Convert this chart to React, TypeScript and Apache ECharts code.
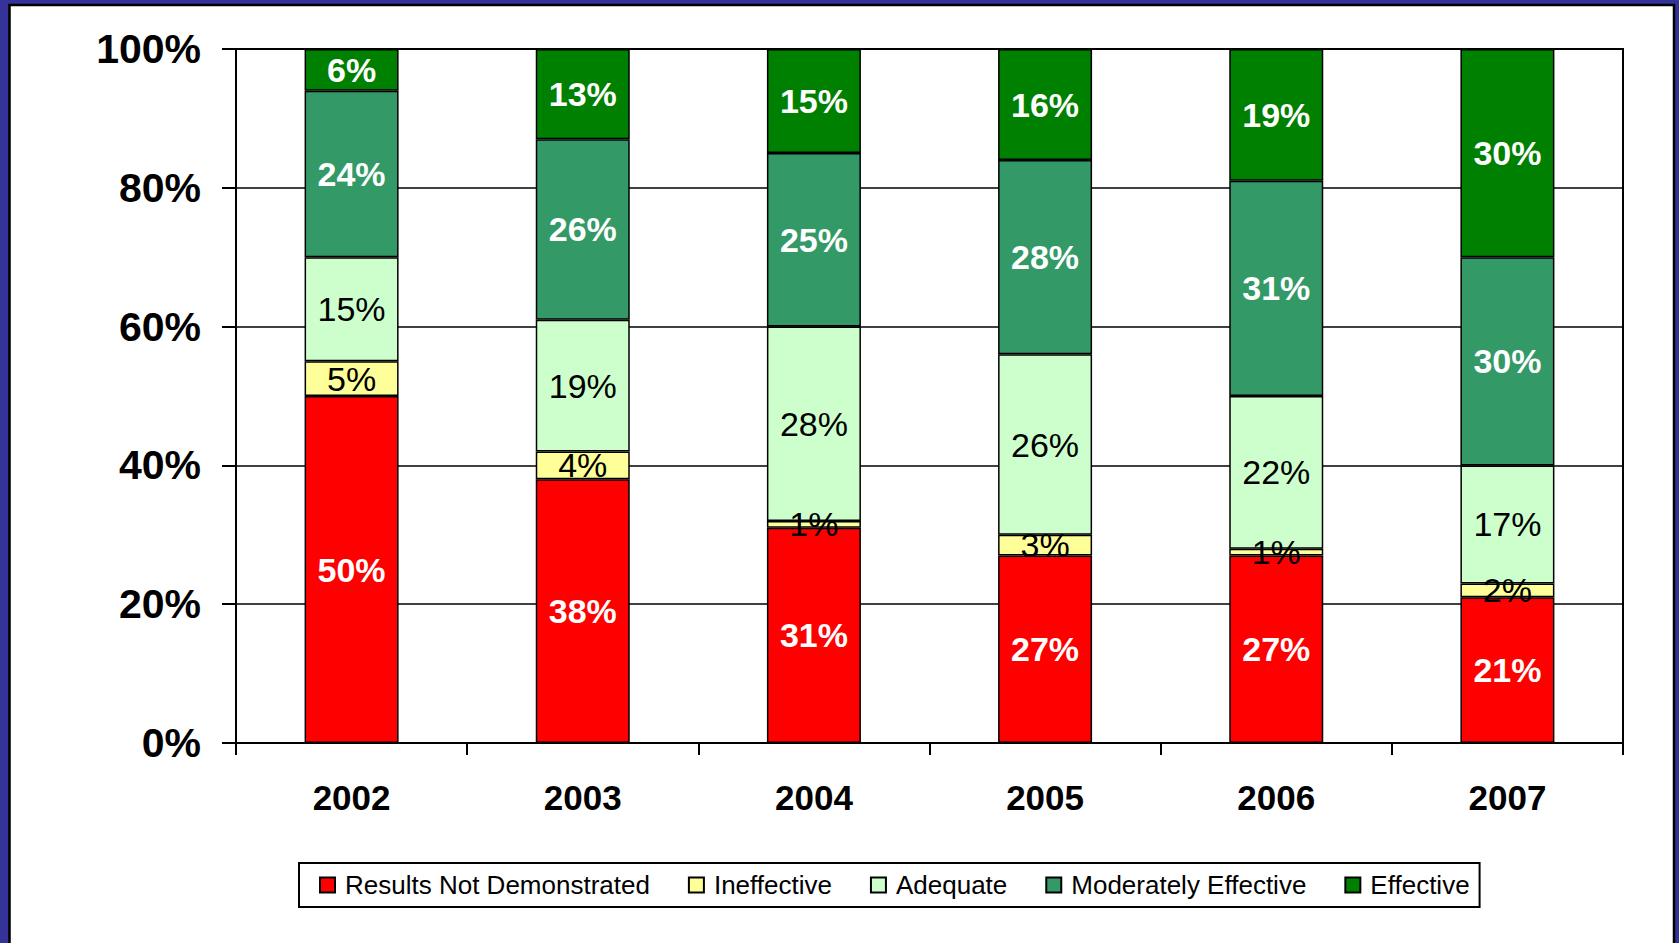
import React, { useEffect, useRef } from "react";
import * as echarts from "echarts";

const categories = ["2002", "2003", "2004", "2005", "2006", "2007"];
const resultsNotDemonstrated = [50, 38, 31, 27, 27, 21];
const ineffective = [5, 4, 1, 3, 1, 2];
const adequate = [15, 19, 28, 26, 22, 17];
const moderatelyEffective = [24, 26, 25, 28, 31, 30];
const effective = [6, 13, 15, 16, 19, 30];
const yTicks = [0, 20, 40, 60, 80, 100];

const FONT = "Arial, 'Liberation Sans', sans-serif";

export default function App() {
  const ref = useRef<HTMLDivElement>(null);
  useEffect(() => {
    if (!ref.current) return;
    const chart = echarts.init(ref.current, null, { renderer: "svg" });
    const mk = (name: string, data: number[], color: string, white: boolean) => ({
      name,
      type: "bar",
      stack: "total",
      data,
      barWidth: 94,
      itemStyle: { color, borderColor: "#000", borderWidth: 1.5 },
      label: {
        show: true,
        position: "inside",
        formatter: "{c}%",
        fontFamily: FONT,
        fontSize: 34,
        fontWeight: white ? "bold" : "normal",
        color: white ? "#fff" : "#000",
      },
    });
    chart.setOption({
      animation: false,
      backgroundColor: "#fff",
      graphic: [
        { type: "rect", z: -20, shape: { x: 0, y: 0, width: 1679, height: 943 }, style: { fill: "#333399" } },
        {
          type: "rect",
          z: -19,
          shape: { x: 9.5, y: 5, width: 1664.5, height: 960 },
          style: { fill: "#fff", stroke: "#000", lineWidth: 2.5 },
        },
      ],
      grid: {
        left: 236,
        right: 56,
        top: 49,
        bottom: 200,
        show: true,
        borderColor: "#000",
        borderWidth: 2,
        backgroundColor: "transparent",
        outerBoundsMode: "none",
      },
      legend: {
        left: 299,
        top: 863,
        orient: "horizontal",
        padding: [9, 10, 9, 20],
        borderColor: "#000",
        borderWidth: 2,
        itemGap: 38,
        itemWidth: 15,
        itemHeight: 15,
        icon: "rect",
        textStyle: { fontFamily: FONT, fontSize: 26, color: "#000", padding: [0, 0, 0, 5] },
      },
      xAxis: {
        type: "category",
        data: categories,
        axisLine: { lineStyle: { color: "#000", width: 2 } },
        axisTick: { show: true, length: 12, lineStyle: { color: "#000", width: 2 } },
        axisLabel: { fontFamily: FONT, fontSize: 35, fontWeight: "bold", color: "#000", margin: 37 },
      },
      yAxis: {
        type: "value",
        min: yTicks[0],
        max: yTicks[yTicks.length - 1],
        interval: 20,
        axisLine: { show: true, lineStyle: { color: "#000", width: 2 } },
        axisTick: { show: true, length: 14, lineStyle: { color: "#000", width: 2 } },
        splitLine: { show: true, lineStyle: { color: "#000", width: 1.5 } },
        axisLabel: {
          formatter: "{value}%",
          fontFamily: FONT,
          fontSize: 41,
          fontWeight: "bold",
          color: "#000",
          margin: 35,
        },
      },
      series: [
        mk("Results Not Demonstrated", resultsNotDemonstrated, "#FF0000", true),
        mk("Ineffective", ineffective, "#FFFF99", false),
        mk("Adequate", adequate, "#CCFFCC", false),
        mk("Moderately Effective", moderatelyEffective, "#339966", true),
        mk("Effective", effective, "#008000", true),
      ],
    });
    return () => chart.dispose();
  }, []);
  return (
    <div
      ref={ref}
      style={{ position: "fixed", left: 0, top: 0, width: 1679, height: 943 }}
    />
  );
}
